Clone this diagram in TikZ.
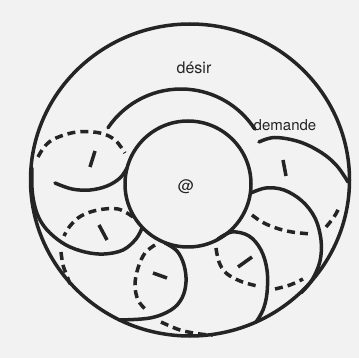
\documentclass[tikz,border=0pt]{standalone}
\usepackage{fontspec}
\setmainfont{TeX Gyre Heros}
\definecolor{paper}{RGB}{242,242,242}
\definecolor{inkc}{RGB}{36,36,36}
\begin{document}
\begin{tikzpicture}[x=1pt,y=-1pt,
  ink/.style={line width=3.5pt,draw=inkc},
  front/.style={ink,line cap=round},
  back/.style={ink,dash pattern=on 8pt off 5pt},
  tickmark/.style={ink,line cap=butt},
  lbl/.style={font=\fontsize{16}{17}\selectfont,text=inkc,inner sep=0pt}]
% page
\fill[paper] (0,0) rectangle (359,358);
\useasboundingbox (0,0) rectangle (359,358);

% torus outline and hole
\draw[ink] (190,180) ellipse [x radius=159.5, y radius=156];
\draw[ink] (188,184) circle [radius=63];

% longitude (desire)
\draw[front] (108,127.8) arc [start angle=-146, end angle=-33, radius=88];

% loop at upper left
\draw[back] plot[smooth,tension=0.6] coordinates {(38,157) (45,146) (56,138) (77,132) (100,133) (115,140) (125,153)};
\draw[front] plot[smooth,tension=0.6] coordinates {(55,183) (72,189) (90,190) (107,186) (120,178) (127,168)};
\draw[tickmark] (95,151) -- (90,167);

% loop on the left
\draw[front] plot[smooth,tension=0.6] coordinates {(32,168) (32,188) (34.5,205) (40,220) (50,233) (66,245) (85,252) (104,254) (123,250) (136,239) (142,228)};
\draw[back] plot[smooth,tension=0.6] coordinates {(133,217) (118,209) (98,210) (81,216) (70,226) (64,236)};
\draw[back] plot[smooth,tension=0.6] coordinates {(61,252) (63,265) (67,276) (70,284)};
\draw[tickmark] (99,225) -- (107,240);

% loop at the bottom
\draw[front] plot[smooth,tension=0.6] coordinates {(165,243) (177,251) (184,265) (186,282) (182,298) (171,310) (150,318) (119,320)};
\draw[back] plot[smooth,tension=0.6] coordinates {(155,245) (145,253) (138,268) (135,285) (138,300) (146,310)};
\draw[back] plot[smooth,tension=0.6] coordinates {(161,322) (180,330) (200,334) (213,335)};
\draw[tickmark] (153,273) -- (167,278);

% loop at lower right
\draw[front] plot[smooth,tension=0.6] coordinates {(218,239) (232,232) (249,236) (261,250) (267,270) (267,293) (263,310) (256,322)};
\draw[back] plot[smooth,tension=0.6] coordinates {(216,248) (219,262) (226,273) (240,281) (257,286)};
\draw[back] plot[smooth,tension=0.6] coordinates {(275,289) (290,285) (303,279)};
\draw[tickmark] (238,267) -- (252,257);

% loop on the right
\draw[front] plot[smooth,tension=0.6] coordinates {(251,193) (266,188) (284,190) (302,201) (315,218) (321,240) (320,261) (312,280) (301,293)};
\draw[back] plot[smooth,tension=0.6] coordinates {(252,215) (262,222) (276,228) (292,232) (311,234)};
\draw[back] plot[smooth,tension=0.6] coordinates {(326,227) (334,217) (340,206)};

% loop at upper right (demand)
\draw[front] plot[smooth,tension=0.6] coordinates {(259,142) (275,137.5) (300,142) (322,153) (337,166) (348,182)};
\draw[tickmark] (283,160) -- (286,176);

% labels
\node[lbl,anchor=base] (desir) at (194,74) {désir};
\node[lbl,anchor=base,font=\fontsize{15}{16}\selectfont] (demande) at (285,131) {demande};
\node[lbl] (objet) at (186,187) {@};
\end{tikzpicture}
\end{document}
